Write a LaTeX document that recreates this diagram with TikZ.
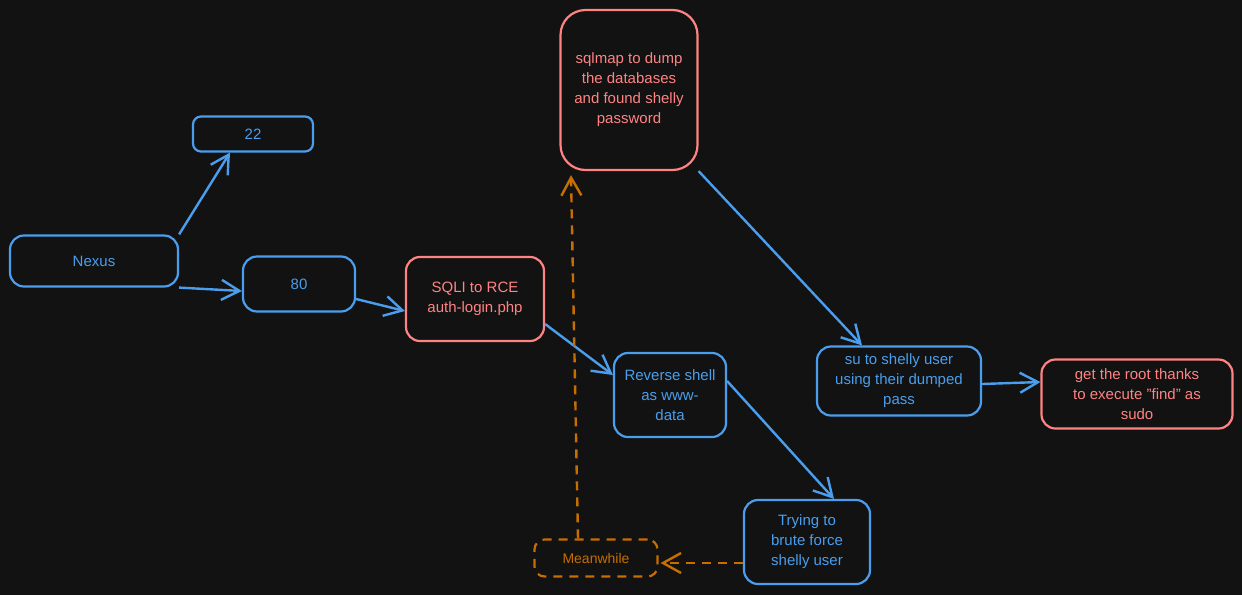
\documentclass[tikz,border=0pt]{standalone}
\usepackage{fontspec}
\setmainfont{Liberation Sans}
\usetikzlibrary{arrows.meta}
\definecolor{bg}{HTML}{121212}
\definecolor{bluel}{HTML}{4A9EED}
\definecolor{redl}{HTML}{FF8383}
\definecolor{orangel}{HTML}{C76E00}
\tikzset{
  box/.style={draw=bluel, text=bluel, line width=2.2pt, rounded corners=14pt, align=center, inner sep=0pt, font=\fontsize{15}{20}\selectfont},
  redbox/.style={box, draw=redl, text=redl},
  waitbox/.style={box, draw=orangel, text=orangel, dash pattern=on 9pt off 7pt},
  link/.style={draw=bluel, line width=2.4pt, -{Straight Barb[length=18pt,width=20pt]}},
  waitlink/.style={link, draw=orangel, dash pattern=on 9pt off 7pt},
}
\begin{document}
\begin{tikzpicture}[x=1pt,y=-1pt]
                \fill[bg] (0,0) rectangle (1242,595);
                \node[box, minimum width=168pt, minimum height=51pt] (nexus) at (94,261) {Nexus};
                \node[box, rounded corners=8pt, minimum width=120pt, minimum height=35pt] (p22) at (253,134) {22};
                \node[box, minimum width=112pt, minimum height=55pt] (p80) at (299,284) {80};
                \node[redbox, minimum width=138pt, minimum height=84pt] (sqli) at (475,299) {SQLI to RCE\\auth-login.php};
                \node[redbox, rounded corners=25pt, minimum width=137pt, minimum height=160pt] (sqlmap) at (629,90) {sqlmap to dump\\the databases\\and found shelly\\password};
                \node[box, minimum width=112pt, minimum height=84pt] (revshell) at (670,395) {Reverse shell\\as www-\\data};
                \node[box, minimum width=126pt, minimum height=84pt] (brute) at (807,542) {Trying to\\brute force\\shelly user};
                \node[waitbox, rounded corners=10pt, minimum width=123pt, minimum height=37pt] (meanwhile) at (596,558) {\fontsize{14}{16}\selectfont Meanwhile};
                \node[box, minimum width=164pt, minimum height=69pt] (sushelly) at (899,381) {su to shelly user\\using their dumped\\pass};
                \node[redbox, minimum width=191pt, minimum height=69pt] (root) at (1137,394) {get the root thanks\\to execute "find" as\\sudo};

                \draw[link] (nexus.north east) -- ([xshift=-23pt]p22.south);
                \draw[link] (nexus.south east) -- ([yshift=-7pt]p80.west);
                \draw[link] ([yshift=-15pt]p80.east) -- ([yshift=-12pt]sqli.west);
                \draw[link] ([yshift=-25pt]sqli.east) -- ([yshift=20pt]revshell.west);
                \draw[link] (sqlmap.south east) -- ([xshift=-37pt]sushelly.north);
                \draw[link] ([yshift=14pt]revshell.east) -- ([xshift=27pt]brute.north);
                \draw[link] ([yshift=-3pt]sushelly.east) -- ([yshift=12pt]root.west);

                % while the brute force runs
                \draw[waitlink] ([yshift=-21pt]brute.west) -- ([xshift=2pt,yshift=-5pt]meanwhile.east);
                \draw[waitlink] ([xshift=-18pt]meanwhile.north) -- ([xshift=-58pt,yshift=-4pt]sqlmap.south);
            \end{tikzpicture}
\end{document}
